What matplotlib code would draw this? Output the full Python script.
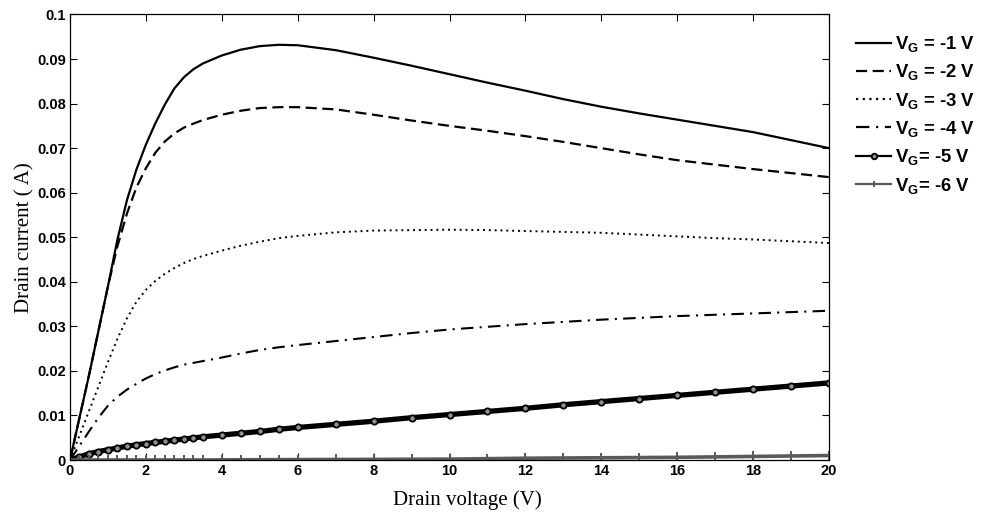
import matplotlib
matplotlib.use("Agg")
import matplotlib.pyplot as plt
from matplotlib.ticker import FixedLocator, FixedFormatter

# Drain voltage sample points (V)
vd = [0, 0.25, 0.5, 0.75, 1, 1.25, 1.5, 1.75, 2, 2.25, 2.5, 2.75, 3, 3.25, 3.5, 4,
      4.5, 5, 5.5, 6, 7, 8, 9, 10, 11, 12, 13, 14, 15, 16, 17, 18, 19, 20]

# Drain current (A) for each gate voltage
id_vg1 = [0, 0.0095, 0.019, 0.029, 0.039, 0.0495, 0.0583, 0.0652, 0.0708, 0.0756,
          0.0798, 0.0834, 0.0859, 0.0877, 0.0890, 0.0908, 0.0921, 0.0929, 0.0932,
          0.0931, 0.0920, 0.0903, 0.0885, 0.0866, 0.0847, 0.0829, 0.0810, 0.0793,
          0.0778, 0.0764, 0.0750, 0.0736, 0.0718, 0.0700]
id_vg2 = [0, 0.0095, 0.019, 0.029, 0.039, 0.0480, 0.0553, 0.0612, 0.0655, 0.0690,
          0.0715, 0.0733, 0.0746, 0.0755, 0.0763, 0.0775, 0.0784, 0.0790, 0.0792,
          0.0792, 0.0787, 0.0775, 0.0762, 0.0750, 0.0739, 0.0727, 0.0714, 0.0700,
          0.0686, 0.0673, 0.0663, 0.0653, 0.0644, 0.0635]
id_vg3 = [0, 0.0055, 0.0110, 0.0165, 0.0220, 0.0272, 0.0318, 0.0355, 0.0382, 0.0402,
          0.0418, 0.0431, 0.0442, 0.0451, 0.0458, 0.0470, 0.0481, 0.0490, 0.0498,
          0.0503, 0.0511, 0.0515, 0.0516, 0.0517, 0.0516, 0.0514, 0.0512, 0.0510,
          0.0506, 0.0502, 0.0498, 0.0495, 0.0491, 0.0487]
id_vg4 = [0, 0.0032, 0.0064, 0.0095, 0.0122, 0.0142, 0.0158, 0.0171, 0.0183, 0.0193,
          0.0201, 0.0208, 0.0214, 0.0218, 0.0222, 0.0230, 0.0239, 0.0247, 0.0253,
          0.0258, 0.0267, 0.0276, 0.0285, 0.0293, 0.0299, 0.0305, 0.0310, 0.0315,
          0.0319, 0.0323, 0.0326, 0.0329, 0.0332, 0.0335]
id_vg5 = [0, 0.0007, 0.0014, 0.0019, 0.0023, 0.0027, 0.0031, 0.0034, 0.0037, 0.00395,
          0.0042, 0.00445, 0.0047, 0.00495, 0.0052, 0.0056, 0.0060, 0.0064, 0.0069,
          0.0073, 0.0080, 0.0087, 0.0095, 0.0102, 0.0109, 0.0116, 0.0124, 0.0131,
          0.0138, 0.0145, 0.0152, 0.0159, 0.0166, 0.0173]
id_vg6 = [0, 0, 0, 0, 0, 0, 0, 0, 0, 0, 0, 0, 0, 0, 0, 0.00003, 0.00005, 0.00007,
          0.00008, 0.0001, 0.00012, 0.00014, 0.00017, 0.0002, 0.0003, 0.0004, 0.00045,
          0.0005, 0.00055, 0.0006, 0.0007, 0.0008, 0.0009, 0.0010]

labels = [r"$\mathrm{V_G}$ = -1 V", r"$\mathrm{V_G}$ = -2 V", r"$\mathrm{V_G}$ = -3 V",
          r"$\mathrm{V_G}$ = -4 V", r"$\mathrm{V_G}$= -5 V", r"$\mathrm{V_G}$= -6 V"]

x_ticks = [0, 2, 4, 6, 8, 10, 12, 14, 16, 18, 20]
y_ticks = [0, 0.01, 0.02, 0.03, 0.04, 0.05, 0.06, 0.07, 0.08, 0.09, 0.1]
y_tick_labels = ["0", "0.01", "0.02", "0.03", "0.04", "0.05", "0.06", "0.07",
                 "0.08", "0.09", "0.1"]

plt.rcParams["mathtext.fontset"] = "custom"
plt.rcParams["mathtext.rm"] = "Liberation Sans:bold"
plt.rcParams["mathtext.bf"] = "Liberation Sans:bold"
plt.rcParams["mathtext.it"] = "Liberation Sans:bold"

fig = plt.figure(figsize=(9.84, 5.19), dpi=100)
ax = fig.add_axes([70 / 984, 1 - 460 / 519, 759 / 984, 445.5 / 519])

ax.plot(vd, id_vg1, color="black", lw=1.6, ls="-", label=labels[0])
ax.plot(vd, id_vg2, color="black", lw=1.6, ls=(0, (5, 2.5)), label=labels[1])
ax.plot(vd, id_vg3, color="black", lw=1.4, ls=(0, (1, 2)), label=labels[2])
ax.plot(vd, id_vg4, color="black", lw=1.5, ls=(0, (6, 3, 1, 3)), label=labels[3])
ax.plot(vd, id_vg5, color="black", lw=3.8, marker="o", ms=4.5, mfc="#909090",
        mec="black", mew=1.3, label=labels[4])
ax.plot(vd, id_vg6, color="#5a5a5a", lw=2.6, marker="+", ms=7, mew=1.4,
        label=labels[5])

ax.set_xlim(0, 20)
ax.set_ylim(0, 0.1)
ax.xaxis.set_major_locator(FixedLocator(x_ticks))
ax.yaxis.set_major_locator(FixedLocator(y_ticks))
ax.yaxis.set_major_formatter(FixedFormatter(y_tick_labels))
ax.tick_params(direction="in", length=5, width=0.8, top=True, right=True,
               labelsize=10.5, pad=3)
for lab in ax.get_xticklabels() + ax.get_yticklabels():
    lab.set_fontfamily("Liberation Sans")
    lab.set_fontweight("bold")
for sp in ax.spines.values():
    sp.set_linewidth(0.9)

ax.set_xlabel("Drain voltage (V)", family="Liberation Serif", fontsize=15)
ax.xaxis.set_label_coords(0.524, -0.068)
ax.set_ylabel("Drain current ( A)", family="Liberation Serif", fontsize=15, labelpad=2)

leg = ax.legend(loc="upper left", bbox_to_anchor=(856 / 984, 1 - 34 / 519),
                bbox_transform=fig.transFigure, frameon=False, borderpad=0,
                borderaxespad=0, handlelength=1.9, handletextpad=0.22,
                labelspacing=0.45, prop={"family": "Liberation Sans",
                                         "weight": "bold", "size": 13.3})
# legend keys drawn with thin lines and small markers
for h in leg.legend_handles:
    h.set_linewidth(1.6)
    h.set_markersize(4)

fig.savefig("out.png", dpi=100)
